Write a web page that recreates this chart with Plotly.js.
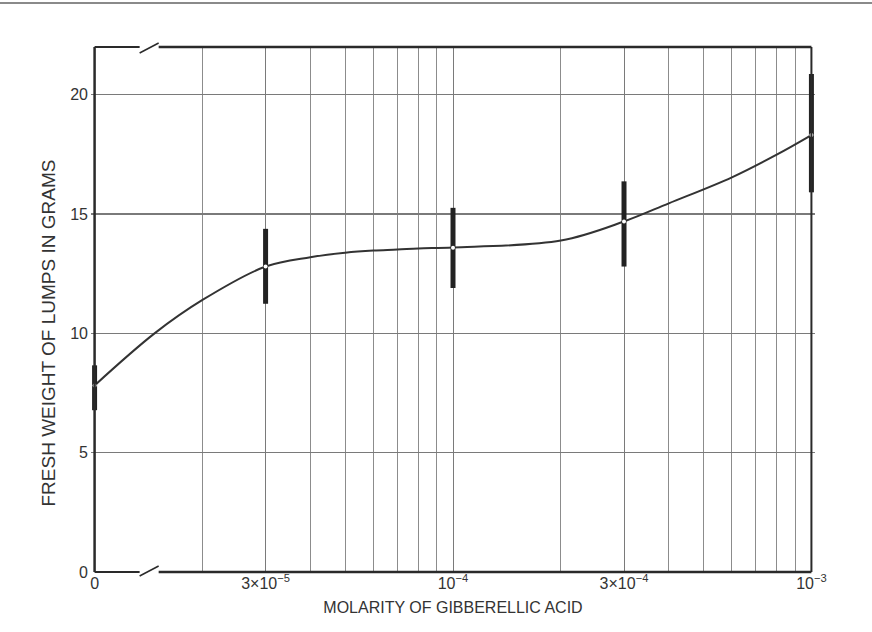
<!DOCTYPE html>
<html>
<head>
<meta charset="utf-8">
<script src="https://cdn.plot.ly/plotly-3.0.1.min.js"></script>
<style>html,body{margin:0;padding:0;background:#fff;}#chart{width:872px;height:632px;}</style>
</head>
<body>
<div id="chart"></div>
<script>
// Molarity (0 is drawn at the 1e-5 position, with an axis break)
const pointX = [1e-5, 3e-5, 1e-4, 3e-4, 1e-3];
const pointY = [7.82, 12.8, 13.59, 14.69, 18.31];
const barLow = [6.78, 11.24, 11.9, 12.8, 15.91];
const barHigh = [8.66, 14.38, 15.26, 16.37, 20.87];

const curveX = [1e-5, 1.47e-5, 2e-5, 3e-5, 4e-5, 5e-5, 6e-5, 7e-5, 8e-5, 1e-4, 2e-4, 3e-4, 4e-4, 6e-4, 8e-4, 1e-3];
const curveY = [7.82, 10.0, 11.4, 12.8, 13.19, 13.38, 13.47, 13.51, 13.56, 13.6, 13.89, 14.69, 15.45, 16.54, 17.49, 18.31];

const xTickVals = [1e-5, 3e-5, 1e-4, 3e-4, 1e-3];
const xTickText = ['0', '3×10<sup>−5</sup>', '10<sup>−4</sup>', '3×10<sup>−4</sup>', '10<sup>−3</sup>'];
const xMinorVals = [2e-5, 4e-5, 5e-5, 6e-5, 7e-5, 8e-5, 9e-5, 2e-4, 4e-4, 5e-4, 6e-4, 7e-4, 8e-4, 9e-4];
const yTickVals = [0, 5, 10, 15, 20];
const xTitle = 'MOLARITY OF GIBBERELLIC ACID';
const yTitle = 'FRESH WEIGHT OF LUMPS IN GRAMS';

const errPlus = pointY.map((v, i) => barHigh[i] - v);
const errMinus = pointY.map((v, i) => v - barLow[i]);

const ink = '#2a2a2a';
const fam = 'Liberation Sans, Arial, sans-serif';

// geometry: one decade = 358 px, 1e-5 at x=95px, range padded a little so edge bars are not clipped
const pad = 0.01;
const xr = [-5 - pad, -3 + pad];
const plotW = (xr[1] - xr[0]) * 358;
const mL = 95 - pad * 358;
const mR = 872 - mL - plotW;
const px = (p) => (p - mL) / plotW;           // pixel -> paper (x)
const py = (p) => (572 - p) / 525;            // pixel -> paper (y)
const fx0 = px(95), fx1 = px(811);
const gapX0 = px(140), gapX1 = px(159);
const pyh = 1 / 525;

const traces = [
  {
    x: curveX, y: curveY, type: 'scatter', mode: 'lines',
    line: {color: '#333', width: 2, shape: 'spline', smoothing: 1},
    hoverinfo: 'skip', showlegend: false
  },
  {
    x: pointX, y: pointY, type: 'scatter', mode: 'markers',
    marker: {color: '#ffffff', size: 4, symbol: 'circle'},
    error_y: {type: 'data', symmetric: false, array: errPlus, arrayminus: errMinus,
              color: '#222', thickness: 5, width: 0},
    cliponaxis: false, showlegend: false
  }
];

const lineShape = (x0, y0, x1, y1, w, c) => ({type: 'line', xref: 'paper', yref: 'paper',
  x0: x0, y0: y0, x1: x1, y1: y1, line: {color: c || ink, width: w}, layer: 'above'});
const whiteRect = (x0, x1, y0, y1) => ({type: 'rect', xref: 'paper', yref: 'paper', x0: x0, x1: x1, y0: y0, y1: y1,
  fillcolor: '#ffffff', line: {width: 0}, layer: 'between'});

const shapes = [
  whiteRect(gapX0, gapX1, 0.003, 0.997),
  whiteRect(0, fx0 - 0.0005, 0, 1),
  whiteRect(fx1 + 0.0005, 1, 0, 1),
  // frame
  lineShape(fx0, 0, fx0, 1, 2.5),
  lineShape(fx1, 0, fx1, 1, 2),
  lineShape(fx0, 1, gapX0, 1, 2),
  lineShape(gapX0, 1 - 6 * pyh, gapX1, 1 + 4 * pyh, 1.5),
  lineShape(gapX1, 1, fx1, 1, 2.5),
  lineShape(fx0, 0, gapX0, 0, 2),
  lineShape(gapX0, -4 * pyh, gapX1, 6 * pyh, 1.5),
  lineShape(gapX1, 0, fx1, 0, 2.5),
  // scan edge at the top of the page
  {type: 'line', xref: 'paper', yref: 'paper', x0: px(0), x1: px(872),
   y0: 1 + 44 * pyh, y1: 1 + 44 * pyh, line: {color: '#8a8a8a', width: 2}, layer: 'above'}
];

const layout = {
  width: 872, height: 632,
  margin: {l: mL, r: mR, t: 47, b: 60, pad: 0},
  paper_bgcolor: '#ffffff', plot_bgcolor: '#ffffff',
  font: {family: fam, color: '#333', size: 15},
  showlegend: false,
  xaxis: {
    type: 'log', range: xr,
    tickmode: 'array', tickvals: xTickVals, ticktext: xTickText,
    ticks: '', showline: false, zeroline: false,
    showgrid: true, gridcolor: '#7a7a7a', gridwidth: 1,
    minor: {tickmode: 'array', tickvals: xMinorVals, showgrid: true, gridcolor: '#8c8c8c', gridwidth: 1, ticks: ''},
    tickfont: {family: fam, size: 16, color: '#333'},
    title: {text: xTitle, font: {family: fam, size: 16, color: '#333'}, standoff: 10},
    fixedrange: true
  },
  yaxis: {
    range: [0, 22],
    tickmode: 'array', tickvals: yTickVals,
    ticks: '', showline: false, zeroline: false,
    showgrid: true, gridcolor: '#7a7a7a', gridwidth: 1.2,
    tickfont: {family: fam, size: 16, color: '#333'},
    ticklabelstandoff: 2,
    fixedrange: true
  },
  annotations: [
    {text: yTitle, xref: 'paper', yref: 'paper', x: px(48), y: py(333),
     xanchor: 'center', yanchor: 'middle', textangle: -90, showarrow: false,
     font: {family: fam, size: 19, color: '#333'}}
  ],
  shapes: shapes
};

Plotly.newPlot('chart', traces, layout, {staticPlot: true, displayModeBar: false});
</script>
</body>
</html>
